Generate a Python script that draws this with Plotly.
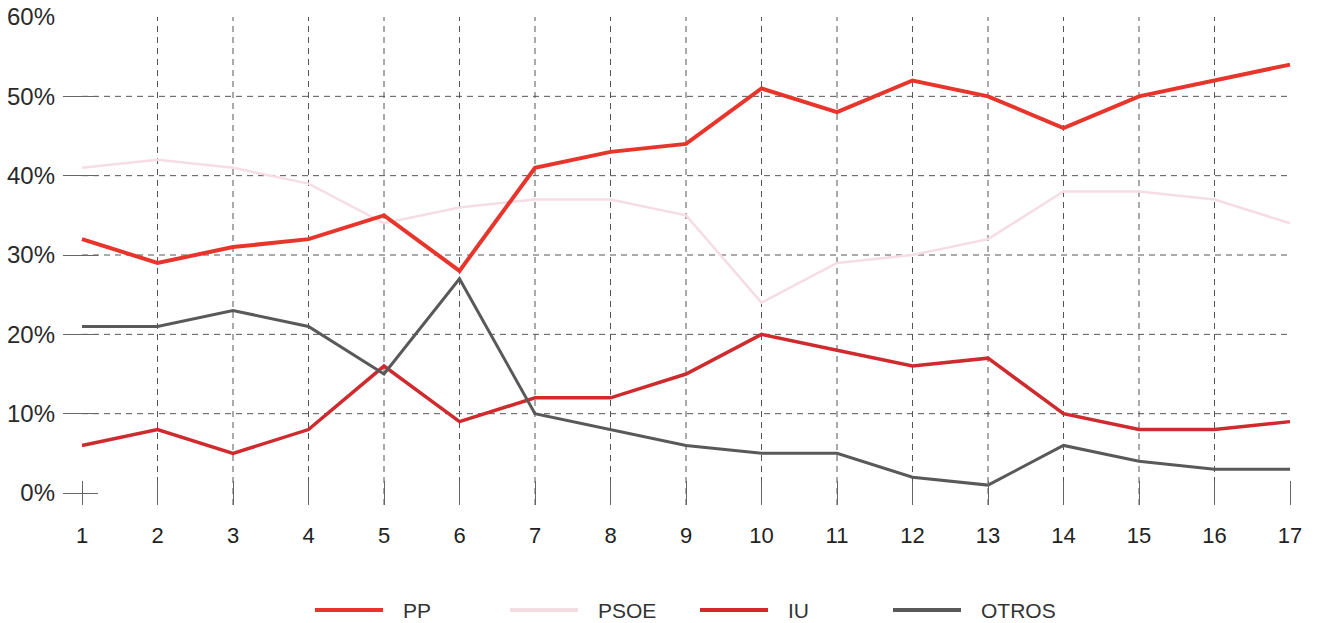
import plotly.graph_objects as go

# ---- data ----
categories = list(range(1, 18))
series_names = ["PP", "PSOE", "IU", "OTROS"]
pp = [32, 29, 31, 32, 35, 28, 41, 43, 44, 51, 48, 52, 50, 46, 50, 52, 54]
psoe = [41, 42, 41, 39, 34, 36, 37, 37, 35, 24, 29, 30, 32, 38, 38, 37, 34]
iu = [6, 8, 5, 8, 16, 9, 12, 12, 15, 20, 18, 16, 17, 10, 8, 8, 9]
otros = [21, 21, 23, 21, 15, 27, 10, 8, 6, 5, 5, 2, 1, 6, 4, 3, 3]
y_ticks = [0, 10, 20, 30, 40, 50, 60]
y_tick_labels = ["0%", "10%", "20%", "30%", "40%", "50%", "60%"]

# ---- styles ----
colors = {"PP": "#e8352b", "PSOE": "#f6dce3", "IU": "#cf2b2e", "OTROS": "#595959"}
widths = {"PP": 4, "PSOE": 2.5, "IU": 3.5, "OTROS": 3}
values = {"PP": pp, "PSOE": psoe, "IU": iu, "OTROS": otros}
draw_order = ["PSOE", "IU", "OTROS", "PP"]
FONT = "Liberation Sans, Arial, sans-serif"
GRID = "#555555"

W, H = 1319, 623
ML, MR, MT, MB = 63, 27, 17, 118

fig = go.Figure()
for name in draw_order:
    fig.add_trace(go.Scatter(
        x=categories, y=values[name], mode="lines", name=name,
        line=dict(color=colors[name], width=widths[name]),
        showlegend=False, cliponaxis=False, hoverinfo="skip"))

shapes = []
# vertical dashed gridlines (not at first/last category)
for c in categories[1:-1]:
    shapes.append(dict(type="line", xref="x", yref="paper", x0=c, x1=c, y0=0, y1=1,
                       line=dict(color=GRID, width=1, dash="6px,5px"), layer="below"))
# horizontal dashed gridlines (not at 0 / 60)
for v in y_ticks[1:-1]:
    shapes.append(dict(type="line", xref="x", yref="y", x0=categories[0], x1=categories[-1],
                       y0=v, y1=v, line=dict(color=GRID, width=1, dash="6px,5px"), layer="below"))

# manual legend (pixel positions)
plot_w = W - ML - MR
plot_h = H - MT - MB
def px_x(p):
    return (p - ML) / plot_w
def px_y(p):
    return (H - MB - p) / plot_h

legend_line_starts = [315, 510, 700, 893]
legend_line_len = 68
legend_gap = 18
legend_y = 610
annotations = []
for name, x0 in zip(series_names, legend_line_starts):
    shapes.append(dict(type="line", xref="paper", yref="paper",
                       x0=px_x(x0), x1=px_x(x0 + legend_line_len),
                       y0=px_y(legend_y), y1=px_y(legend_y),
                       line=dict(color=colors[name], width=4)))
    annotations.append(dict(xref="paper", yref="paper",
                            x=px_x(x0 + legend_line_len + legend_gap), y=px_y(legend_y),
                            xanchor="left", yanchor="middle", showarrow=False,
                            text=name, font=dict(family=FONT, size=21, color="#333333")))

x_left = 1 - 19 / 75.5
x_right = 17 + 2 / 75.5

fig.update_layout(
    width=W, height=H,
    margin=dict(l=ML, r=MR, t=MT, b=MB, autoexpand=False),
    paper_bgcolor="white", plot_bgcolor="white",
    font=dict(family=FONT, color="#333333"),
    shapes=shapes, annotations=annotations,
    xaxis=dict(range=[x_left, x_right], tickmode="array", tickvals=categories,
               ticktext=[str(c) for c in categories],
               ticks="inside", ticklen=24, tickwidth=1, tickcolor="#666666",
               showgrid=False, zeroline=False, showline=False, automargin=False,
               tickfont=dict(family=FONT, size=22, color="#222222"),
               ticklabelstandoff=15),
    yaxis=dict(range=[-1.51, 60], tickmode="array", tickvals=y_ticks, ticktext=y_tick_labels,
               ticks="inside", ticklen=35, tickwidth=1, tickcolor="#666666",
               showgrid=False, zeroline=False, showline=False, automargin=False,
               tickfont=dict(family=FONT, size=24, color="#2a2a2a"),
               ticklabelstandoff=7),
)

fig.write_html(
    "out.html",
    config={"responsive": False, "displayModeBar": False},
    post_script="document.body.style.margin='0';document.body.style.padding='0';"
                "document.body.style.overflow='hidden';",
)
